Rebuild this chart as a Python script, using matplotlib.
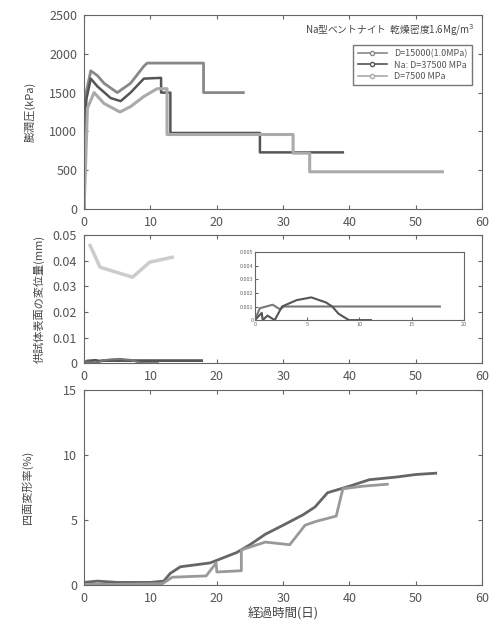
import matplotlib
matplotlib.use("Agg")
import matplotlib.pyplot as plt
from matplotlib.lines import Line2D

plt.rcParams['font.family'] = ['Noto Sans CJK JP', 'DejaVu Sans']
plt.rcParams['axes.edgecolor'] = '#666666'
plt.rcParams['xtick.color'] = '#666666'
plt.rcParams['ytick.color'] = '#666666'

# swelling pressure (kPa)
t_a = [0, 0.3, 1, 2, 3, 5, 7, 9, 9.5, 18, 18, 24]
p_a = [0, 1500, 1780, 1720, 1620, 1500, 1620, 1840, 1880, 1880, 1500, 1500]
t_b = [0, 0.3, 1, 2, 4, 5.5, 7, 9, 11.6, 11.6, 13, 13, 26.5, 26.5, 39]
p_b = [0, 1400, 1680, 1580, 1430, 1390, 1500, 1680, 1690, 1500, 1500, 980, 980, 730, 730]
t_c = [0, 0.5, 1.5, 3, 5.4, 7, 9, 11, 12.5, 12.5, 31.5, 31.5, 34, 34, 54]
p_c = [0, 1300, 1500, 1360, 1250, 1320, 1450, 1550, 1550, 960, 960, 720, 720, 480, 480]
legend_labels = ['D=15000(1.0MPa)', 'Na: D=37500 MPa', 'D=7500 MPa']

# surface displacement (mm)
t_d1 = [0, 0.47, 1.7, 2.4, 2.8, 17.7]
d_d1 = [0, 0.00087, 0.00113, 0.0008, 0.001, 0.001]
t_d2 = [0, 0.66, 0.75, 1.2, 1.9, 2.6, 4, 5.4, 6.8, 7.4, 8, 9, 11.1]
d_d2 = [0, 0.00053, 0, 0.00033, 0, 0.001, 0.00147, 0.00167, 0.0013, 0.001, 0.00047, 0, 0]
t_d3 = [0.9, 2.4, 7.3, 9.9, 13.3]
d_d3 = [0.046, 0.0375, 0.0336, 0.0395, 0.0414]

# deformation rate (%)
t_e1 = [0, 2, 5, 10, 12, 13, 14.5, 19, 21, 23, 25, 27.3, 30, 33, 34.8, 36.7, 40, 43, 47, 50, 53]
e_e1 = [0.2, 0.3, 0.2, 0.2, 0.3, 0.9, 1.4, 1.7, 2.1, 2.5, 3.1, 3.9, 4.6, 5.4, 6.0, 7.1, 7.6, 8.1, 8.3, 8.5, 8.6]
t_e2 = [0, 5, 11.8, 13.3, 18.4, 19.9, 20, 23.7, 23.7, 27.3, 31, 33.3, 35, 38, 39, 42, 45.7]
e_e2 = [0.05, 0.05, 0.1, 0.6, 0.7, 1.7, 1.0, 1.1, 2.7, 3.3, 3.1, 4.6, 4.9, 5.3, 7.4, 7.6, 7.75]

xticks = [0, 10, 20, 30, 40, 50, 60]

fig = plt.figure(figsize=(4.92, 6.24), dpi=100)
ax1 = fig.add_axes([0.171, 0.665, 0.809, 0.311])
ax2 = fig.add_axes([0.171, 0.418, 0.809, 0.205])
ax3 = fig.add_axes([0.171, 0.0625, 0.809, 0.3125])
axin = fig.add_axes([0.518, 0.487, 0.425, 0.109])

for ax in (ax1, ax2, ax3):
    ax.set_xlim(0, 60)
    ax.set_xticks(xticks)
    ax.tick_params(direction='in', top=True, right=True, labelsize=9, labelcolor='#555555',
                   length=3, pad=5)

# top panel
ax1.plot(t_a, p_a, color='#888888', lw=2)
ax1.plot(t_b, p_b, color='#555555', lw=1.8)
ax1.plot(t_c, p_c, color='#aaaaaa', lw=2.2)
ax1.set_ylim(0, 2500)
ax1.set_yticks([0, 500, 1000, 1500, 2000, 2500])
ax1.set_ylabel('膨潤圧(kPa)', fontsize=8, color='#444444', labelpad=10)
ax1.text(0.98, 0.88, 'Na型ベントナイト  乾燥密度1.6Mg/m$^3$', transform=ax1.transAxes,
         ha='right', va='bottom', fontsize=7, color='#444444')
handles = [Line2D([], [], color=c, lw=1.2, marker='o', markersize=3, markerfacecolor='white')
           for c in ('#888888', '#555555', '#aaaaaa')]
leg = ax1.legend(handles, legend_labels, loc='upper right', bbox_to_anchor=(0.985, 0.87),
                 fontsize=6.5, frameon=True, fancybox=False, edgecolor='#555555',
                 handlelength=3.2, borderpad=0.5, labelspacing=0.25)
for txt in leg.get_texts():
    txt.set_color('#555555')

# middle panel
ax2.plot(t_d1, d_d1, color='#555555', lw=2)
ax2.plot(t_d2, d_d2, color='#777777', lw=1.5)
ax2.plot(t_d3, d_d3, color='#cccccc', lw=2.5)
ax2.set_ylim(0, 0.05)
ax2.set_yticks([0, 0.01, 0.02, 0.03, 0.04, 0.05])
ax2.set_yticklabels(['0', '0.01', '0.02', '0.03', '0.04', '0.05'])
ax2.set_ylabel('供試体表面の変位量(mm)', fontsize=8, color='#444444', labelpad=6)

axin.plot(t_d1, d_d1, color='#777777', lw=1.5)
axin.plot(t_d2, d_d2, color='#555555', lw=1.5)
axin.set_xlim(0, 20)
axin.set_ylim(0, 0.005)
axin.set_xticks([0, 5, 10, 15, 20])
axin.set_yticks([0, 0.001, 0.002, 0.003, 0.004, 0.005])
axin.set_yticklabels(['0', '0.001', '0.002', '0.003', '0.004', '0.005'])
axin.tick_params(direction='in', labelsize=4, labelcolor='#666666', length=2, pad=1)

# bottom panel
ax3.plot(t_e1, e_e1, color='#666666', lw=2)
ax3.plot(t_e2, e_e2, color='#999999', lw=2)
ax3.set_ylim(0, 15)
ax3.set_yticks([0, 5, 10, 15])
ax3.set_ylabel('四面変形率(%)', fontsize=8, color='#444444', labelpad=22)
ax3.set_xlabel('経過時間(日)', fontsize=9, color='#444444', labelpad=2)

fig.savefig('out.png', dpi=100)
